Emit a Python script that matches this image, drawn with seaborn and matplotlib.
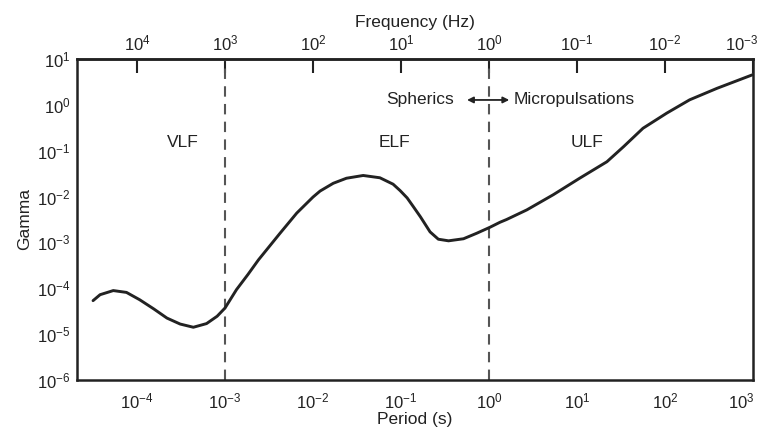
import numpy as np
import pandas as pd
import matplotlib
matplotlib.use("Agg")
import matplotlib.pyplot as plt
import matplotlib.transforms as mtransforms
import seaborn as sns
from matplotlib.ticker import FixedLocator, LogFormatterMathtext, NullLocator

# log10 of period (s) and log10 of Gamma
log_period = [-4.50, -4.42, -4.27, -4.12, -3.97, -3.81, -3.66, -3.51, -3.36, -3.21,
              -3.09, -3.00, -2.87, -2.74, -2.62, -2.375, -2.185, -2.00, -1.92, -1.77,
              -1.62, -1.43, -1.24, -1.09, -1.01, -0.93, -0.86, -0.78, -0.67, -0.576,
              -0.46, -0.29, -0.14, 0.01, 0.125, 0.20, 0.43, 0.73, 1.03, 1.34,
              1.53, 1.75, 2.02, 2.28, 2.59, 3.00]
log_gamma = [-4.27, -4.14, -4.05, -4.09, -4.25, -4.45, -4.65, -4.78, -4.85, -4.77,
             -4.61, -4.43, -4.03, -3.70, -3.38, -2.80, -2.36, -2.01, -1.88, -1.71,
             -1.60, -1.54, -1.59, -1.73, -1.87, -2.03, -2.22, -2.44, -2.77, -2.93,
             -2.965, -2.92, -2.80, -2.67, -2.56, -2.50, -2.29, -1.96, -1.60, -1.24,
             -0.91, -0.51, -0.18, 0.11, 0.36, 0.66]

period_ticks = [-4, -3, -2, -1, 0, 1, 2, 3]
freq_ticks = [4, 3, 2, 1, 0, -1, -2, -3]
gamma_ticks = [1, 0, -1, -2, -3, -4, -5, -6]
band_boundaries = [1e-3, 1e0]
band_labels = ["VLF", "ELF", "ULF"]
band_label_x = [10**-3.48, 10**-1.08, 10**1.11]

df = pd.DataFrame({"period": 10.0 ** np.array(log_period),
                   "gamma": 10.0 ** np.array(log_gamma)})

sns.set_theme(style="white")
plt.rcParams["font.family"] = ["Liberation Sans", "DejaVu Sans"]
plt.rcParams["mathtext.fontset"] = "custom"
plt.rcParams["mathtext.rm"] = "Liberation Sans"
plt.rcParams["mathtext.it"] = "Liberation Sans:italic"
plt.rcParams["mathtext.bf"] = "Liberation Sans:bold"

ink = "#222222"
fs_text = 12.5
fs_tick = 12
fig = plt.figure(figsize=(7.64, 4.32), dpi=100)
ax = fig.add_axes([77.2 / 764, 0.1204, (753 - 77.2) / 764, 0.8634 - 0.1204])

sns.lineplot(data=df, x="period", y="gamma", ax=ax, color=ink, linewidth=2.1,
             sort=False, estimator=None)
ax.set_xscale("log")
ax.set_yscale("log")
ax.set_xlim(10**-4.68, 1e3)
ax.set_ylim(1e-6, 1e1)

for b in band_boundaries:
    ax.axvline(b, color="#555555", linestyle=(0, (5, 3.5)), linewidth=1.5, zorder=1)

fmt = LogFormatterMathtext()
ax.xaxis.set_major_locator(FixedLocator([10.0**t for t in period_ticks]))
ax.xaxis.set_major_formatter(fmt)
ax.xaxis.set_minor_locator(NullLocator())
ax.yaxis.set_major_locator(FixedLocator([10.0**t for t in gamma_ticks]))
ax.yaxis.set_major_formatter(fmt)
ax.yaxis.set_minor_locator(NullLocator())

ax.tick_params(axis="both", which="major", direction="in", length=10, width=1.5,
               color=ink, labelcolor=ink, labelsize=fs_tick, pad=5)
ax.tick_params(axis="x", pad=8)
for s in ax.spines.values():
    s.set_color(ink)
    s.set_linewidth(1.8)

sec = ax.secondary_xaxis("top", functions=(lambda x: 1.0 / x, lambda x: 1.0 / x))
sec.xaxis.set_major_locator(FixedLocator([10.0**t for t in freq_ticks]))
sec.xaxis.set_major_formatter(fmt)
sec.xaxis.set_minor_locator(NullLocator())
sec.tick_params(axis="x", which="major", direction="in", length=10, width=1.5,
                color=ink, labelcolor=ink, labelsize=fs_tick, pad=4)
sec.spines["top"].set_linewidth(1.8)
sec.spines["top"].set_color(ink)
sec.set_xlabel("Frequency (Hz)", fontsize=fs_text, color=ink, labelpad=5)

ax.set_xlabel("Period (s)", fontsize=fs_text, color=ink, labelpad=1)
ax.set_ylabel("Gamma", fontsize=fs_text, color=ink, labelpad=3)

for lx, lab in zip(band_label_x, band_labels):
    ax.text(lx, 10**-0.81, lab, ha="center", va="center", fontsize=fs_text, color=ink)

y_arrow = 10**0.107
ax.text(10**-0.40, y_arrow, "Spherics", ha="right", va="center", fontsize=fs_text, color=ink)
ax.text(10**0.28, y_arrow, "Micropulsations", ha="left", va="center", fontsize=fs_text, color=ink)
ax.annotate("", xy=(10**0.23, y_arrow), xytext=(10**-0.25, y_arrow),
            arrowprops=dict(arrowstyle="<|-|>", color=ink, lw=1.3,
                            mutation_scale=9, shrinkA=0, shrinkB=0))

fig.canvas.draw()
# nudge the right-most tick labels inward, as in the reference
for tick, dx in ((ax.xaxis.get_major_ticks()[-1], -12), (sec.xaxis.get_major_ticks()[-1], -11)):
    for l in (tick.label1, tick.label2):
        l.set_transform(l.get_transform() + mtransforms.ScaledTranslation(dx / 100, 0, fig.dpi_scale_trans))

fig.savefig("out.png", dpi=100, facecolor="white")
